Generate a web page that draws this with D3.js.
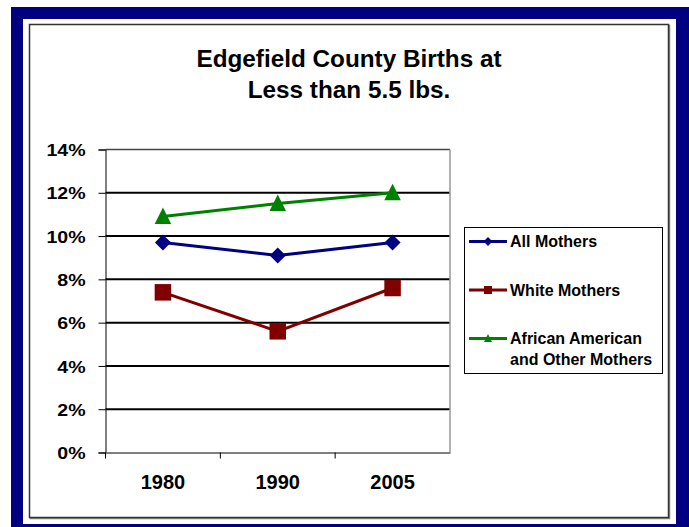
<!DOCTYPE html>
<html>
<head>
<meta charset="utf-8">
<script src="https://cdn.jsdelivr.net/npm/d3@7"></script>
<style>
  body { margin: 0; background: #fff; }
  text { font-family: Arial, "Liberation Sans", sans-serif; font-weight: bold; fill: #000; }
</style>
</head>
<body>
<div id="canvas"></div>
<script>
// data
const years = ['1980', '1990', '2005'];
const allMothers = [9.7, 9.1, 9.7];
const whiteMothers = [7.4, 5.6, 7.6];
const africanAmerican = [10.9, 11.5, 12.0];
const yTicks = [0, 2, 4, 6, 8, 10, 12, 14];
const titleLines = ['Edgefield County Births at', 'Less than 5.5 lbs.'];

const series = [
  {name: ['All Mothers'], values: allMothers, color: '#000080', shape: 'diamond'},
  {name: ['White Mothers'], values: whiteMothers, color: '#800000', shape: 'square'},
  {name: ['African American', 'and Other Mothers'], values: africanAmerican, color: '#008000', shape: 'triangle'}
];

const W = 689, H = 527;
const svg = d3.select('#canvas').append('svg')
  .attr('width', W)
  .attr('height', H);

// navy frame + white + chart border
svg.append('rect').attr('x', 11).attr('y', 7).attr('width', W - 11).attr('height', H - 7).attr('fill', '#000080');
svg.append('rect').attr('x', 23).attr('y', 19).attr('width', 653).attr('height', 505).attr('fill', '#fff');
svg.append('rect').attr('x', 30.5).attr('y', 25.5).attr('width', 639).attr('height', 493).attr('fill', 'none')
  .attr('stroke', '#888').attr('stroke-width', 1.5);
svg.append('rect').attr('x', 29.5).attr('y', 24.5).attr('width', 639).attr('height', 493).attr('fill', '#fff')
  .attr('stroke', '#333').attr('stroke-width', 1.5);

// title
svg.append('text')
  .attr('x', 349).attr('y', 67)
  .attr('text-anchor', 'middle')
  .style('font-size', '24.3px')
  .selectAll('tspan')
  .data(titleLines)
  .enter().append('tspan')
  .attr('x', 349)
  .attr('dy', (d, i) => i ? 30.5 : 0)
  .text(d => d);

// scales
const x = d3.scaleBand().domain(years).range([105.5, 450]);
const y = d3.scaleLinear().domain([0, 14]).range([452.5, 149.5]);

// grid lines
svg.append('g').selectAll('line')
  .data(yTicks.filter(t => t > 0 && t < 14))
  .enter().append('line')
  .attr('x1', 105.5).attr('x2', 450)
  .attr('y1', d => y(d)).attr('y2', d => y(d))
  .attr('stroke', '#000').attr('stroke-width', 2);

// plot border
svg.append('line').attr('x1', 105.5).attr('x2', 450).attr('y1', y(14)).attr('y2', y(14))
  .attr('stroke', '#444').attr('stroke-width', 1.5);
svg.append('line').attr('x1', 450).attr('x2', 450).attr('y1', y(14)).attr('y2', y(0))
  .attr('stroke', '#999').attr('stroke-width', 1.5);

// y axis
const yAxis = svg.append('g')
  .attr('transform', 'translate(105.5,0)')
  .call(d3.axisLeft(y).tickValues(yTicks).tickFormat(d => d + '%').tickSize(7).tickPadding(13));
yAxis.select('.domain').attr('stroke', '#000');
yAxis.selectAll('.tick line').attr('stroke', '#000');
yAxis.selectAll('.tick text')
  .style('font-family', 'Arial, "Liberation Sans", sans-serif')
  .style('font-weight', 'bold')
  .style('font-size', '17px')
  .attr('dy', '0.36em')
  .each(function() {
    const t = d3.select(this);
    const xx = +t.attr('x');
    // labels are a bit wider than their height in the original
    t.attr('transform', `translate(${xx},0) scale(1.15,1) translate(${-xx},0)`);
  });

// x axis
const xAxis = svg.append('g')
  .attr('transform', `translate(0,${y(0)})`)
  .call(d3.axisBottom(x).tickSize(0).tickPadding(22));
xAxis.select('.domain').attr('stroke', '#555').attr('stroke-width', 1.5);
xAxis.selectAll('text')
  .style('font-family', 'Arial, "Liberation Sans", sans-serif')
  .style('font-weight', 'bold')
  .style('font-size', '20px');
// category separators
xAxis.selectAll('.sep')
  .data(years)
  .enter().append('line')
  .attr('x1', d => x(d)).attr('x2', d => x(d))
  .attr('y1', 0).attr('y2', 6)
  .attr('stroke', '#000');

// markers
function marker(g, shape, size, color) {
  if (shape === 'diamond') {
    g.append('path').attr('d', `M0,${-size/2}L${size/2},0L0,${size/2}L${-size/2},0Z`).attr('fill', color);
  } else if (shape === 'square') {
    g.append('rect').attr('x', -size/2).attr('y', -size/2).attr('width', size).attr('height', size).attr('fill', color);
  } else {
    g.append('path').attr('d', `M0,${-size*0.55}L${size/2},${size*0.45}L${-size/2},${size*0.45}Z`).attr('fill', color);
  }
}

const line = d3.line()
  .x((d, i) => x(years[i]) + x.bandwidth() / 2)
  .y(d => y(d));

series.forEach(s => {
  svg.append('path')
    .datum(s.values)
    .attr('d', line)
    .attr('fill', 'none')
    .attr('stroke', s.color)
    .attr('stroke-width', 3);
  s.values.forEach((v, i) => {
    const g = svg.append('g')
      .attr('transform', `translate(${x(years[i]) + x.bandwidth() / 2},${y(v)})`);
    marker(g, s.shape, s.shape === 'diamond' ? 16 : 16.5, s.color);
  });
});

// legend
const legend = svg.append('g');
legend.append('rect')
  .attr('x', 464.5).attr('y', 227.5).attr('width', 198).attr('height', 146)
  .attr('fill', '#fff').attr('stroke', '#000').attr('stroke-width', 1);
const legendY = [241.5, 290, 338.5];
series.forEach((s, i) => {
  const ly = legendY[i];
  legend.append('line')
    .attr('x1', 469).attr('x2', 507).attr('y1', ly).attr('y2', ly)
    .attr('stroke', s.color).attr('stroke-width', 3);
  const g = legend.append('g').attr('transform', `translate(488,${ly})`);
  marker(g, s.shape, s.shape === 'diamond' ? 9 : 8, s.color);
  legend.append('text')
    .attr('x', 510).attr('y', ly)
    .style('font-size', '16px')
    .selectAll('tspan')
    .data(s.name)
    .enter().append('tspan')
    .attr('x', 510)
    .attr('dy', (d, j) => j ? 21 : '0.36em')
    .text(d => d);
});
</script>
</body>
</html>
